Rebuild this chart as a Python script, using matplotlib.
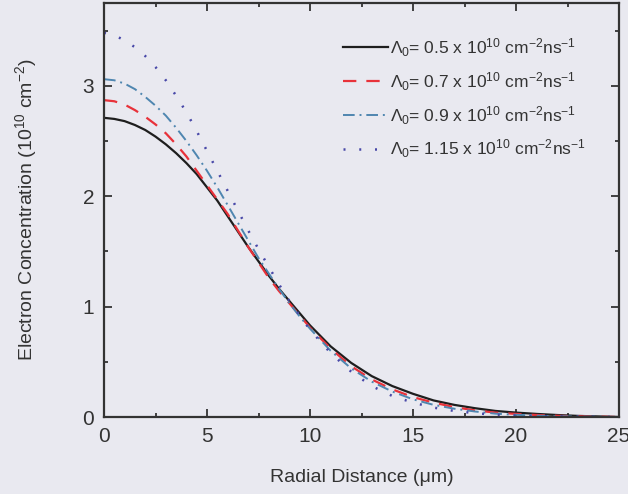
import matplotlib
matplotlib.use("Agg")
import matplotlib.pyplot as plt
from matplotlib.ticker import MultipleLocator

plt.rcParams["font.family"] = ["Liberation Sans", "DejaVu Sans"]
plt.rcParams["mathtext.fontset"] = "custom"
plt.rcParams["mathtext.rm"] = "Liberation Sans"
plt.rcParams["mathtext.it"] = "Liberation Sans:italic"
plt.rcParams["mathtext.bf"] = "Liberation Sans:bold"

# Radial distance (um): half-micron steps near the centre, then 1 um
radius = [0, 0.5, 1, 1.5, 2, 2.5, 3, 3.5, 4, 4.5, 5, 5.5, 6, 6.5, 7, 7.5, 8,
          8.5, 9, 9.5, 10, 11, 12, 13, 14, 15, 16, 17, 18, 19, 20, 21, 22,
          23, 24, 25]

# Electron concentration (1e10 cm^-2) for each generation rate
n_05 = [2.71, 2.70, 2.68, 2.645, 2.60, 2.54, 2.47, 2.39, 2.30, 2.20, 2.08,
        1.96, 1.82, 1.68, 1.54, 1.41, 1.28, 1.16, 1.05, 0.94, 0.83,
        0.64, 0.49, 0.37, 0.28, 0.21, 0.15, 0.11, 0.08, 0.055, 0.04, 0.028,
        0.018, 0.010, 0.005, 0.0]
n_07 = [2.87, 2.86, 2.83, 2.78, 2.72, 2.65, 2.57, 2.47, 2.36, 2.23, 2.10,
        1.97, 1.84, 1.69, 1.54, 1.40, 1.26, 1.14, 1.03, 0.92, 0.81,
        0.62, 0.46, 0.34, 0.25, 0.18, 0.13, 0.09, 0.06, 0.04, 0.028, 0.018,
        0.011, 0.006, 0.003, 0.0]
n_09 = [3.06, 3.05, 3.02, 2.97, 2.90, 2.82, 2.73, 2.62, 2.50, 2.37, 2.23,
        2.08, 1.92, 1.76, 1.60, 1.44, 1.30, 1.16, 1.03, 0.91, 0.80,
        0.60, 0.44, 0.32, 0.23, 0.16, 0.11, 0.075, 0.05, 0.03, 0.02, 0.012,
        0.007, 0.004, 0.002, 0.0]
n_115 = [3.48, 3.46, 3.41, 3.35, 3.27, 3.17, 3.05, 2.91, 2.76, 2.59, 2.41,
         2.23, 2.05, 1.87, 1.69, 1.52, 1.36, 1.20, 1.05, 0.92, 0.79,
         0.58, 0.41, 0.28, 0.19, 0.13, 0.085, 0.055, 0.035, 0.02, 0.013,
         0.008, 0.005, 0.003, 0.001, 0.0]

labels = [
    r"$\Lambda_0$= 0.5 x 10$^{10}$ cm$^{-2}$ns$^{-1}$",
    r"$\Lambda_0$= 0.7 x 10$^{10}$ cm$^{-2}$ns$^{-1}$",
    r"$\Lambda_0$= 0.9 x 10$^{10}$ cm$^{-2}$ns$^{-1}$",
    r"$\Lambda_0$= 1.15 x 10$^{10}$ cm$^{-2}$ns$^{-1}$",
]

bg = "#e9e9f0"
fig = plt.figure(figsize=(6.28, 4.94), dpi=100, facecolor=bg)
ax = fig.add_axes([104 / 628, 1 - 417 / 494, 515 / 628, 414 / 494], facecolor=bg)

ax.plot(radius, n_05, color="#1e1e1e", lw=1.6, ls="-", label=labels[0])
ax.plot(radius, n_07, color="#e8323a", lw=1.6, ls=(0, (6, 4.5)), label=labels[1])
ax.plot(radius, n_09, color="#4f86b0", lw=1.4, ls=(0, (6, 2.5, 1, 2.5)), label=labels[2])
ax.plot(radius, n_115, color="#4848a8", lw=1.8, ls=(0, (0.8, 5.5)), label=labels[3])

ax.set_xlim(0, 25)
ax.set_ylim(0, 3.75)
ax.xaxis.set_major_locator(MultipleLocator(5))
ax.xaxis.set_minor_locator(MultipleLocator(2.5))
ax.yaxis.set_major_locator(MultipleLocator(1))
ax.yaxis.set_minor_locator(MultipleLocator(0.5))
ax.tick_params(which="both", direction="in", top=True, right=True,
               colors="#333333", labelcolor="#333333", width=1.3)
ax.tick_params(which="major", length=6, labelsize=15, pad=7)
ax.tick_params(which="minor", length=3)
for sp in ax.spines.values():
    sp.set_linewidth(1.6)
    sp.set_color("#333333")

ax.set_xlabel("Radial Distance (μm)", fontsize=14, color="#333333", labelpad=17)
ax.set_ylabel(r"Electron Concentration (10$^{10}$ cm$^{-2}$)", fontsize=14,
              color="#333333", labelpad=31)

leg = ax.legend(loc="upper right", bbox_to_anchor=(0.955, 0.945), frameon=False,
                fontsize=12.5, handlelength=2.6, handletextpad=0.1,
                labelspacing=0.65, borderaxespad=0.2)
for t in leg.get_texts():
    t.set_color("#333333")

fig.savefig("out.png", dpi=100, facecolor=bg)
